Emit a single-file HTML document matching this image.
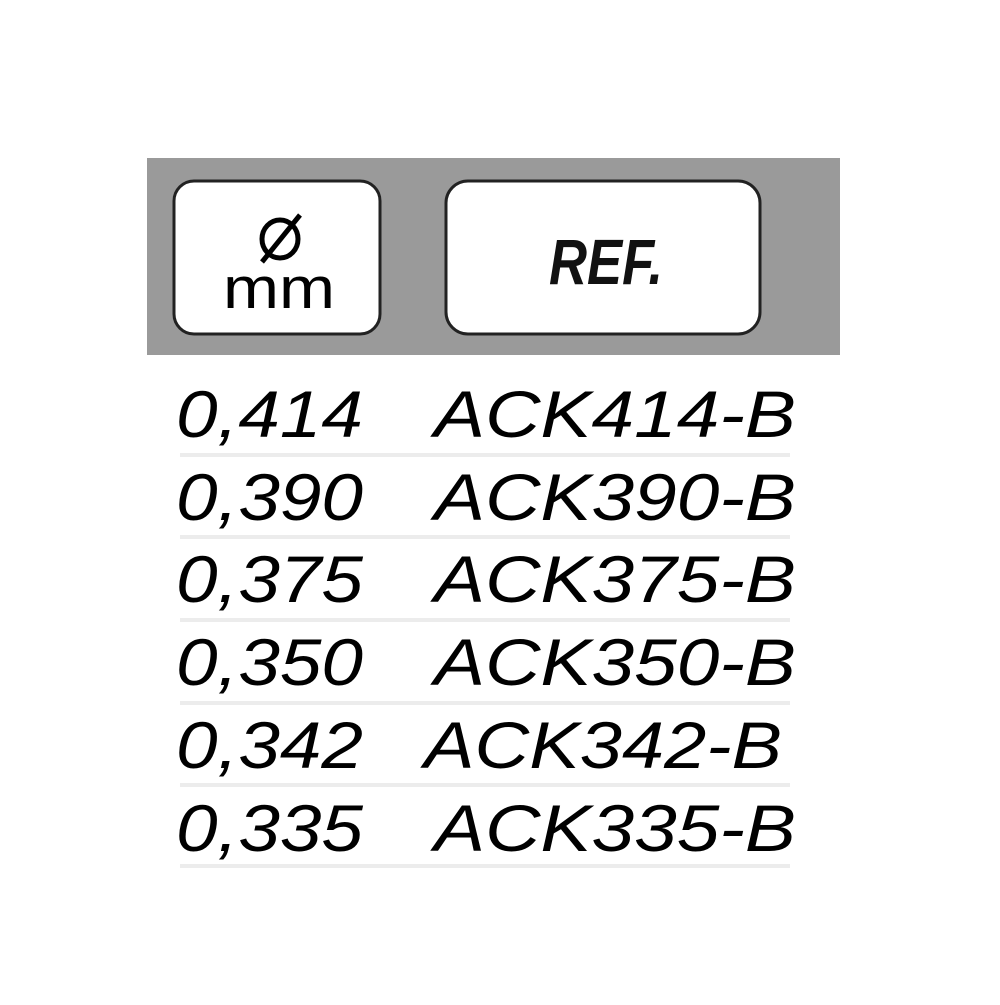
<!DOCTYPE html>
<html><head><style>html,body{margin:0;padding:0;background:#fff}</style></head>
<body>
<svg width="1000" height="1000" viewBox="0 0 1000 1000" xmlns="http://www.w3.org/2000/svg">
<rect width="1000" height="1000" fill="#fff"/>
<rect x="147" y="158" width="693" height="197" fill="#9a9a9a"/>
<rect x="174" y="181" width="206" height="153" rx="20" fill="#fff" stroke="#222" stroke-width="3"/>
<rect x="446" y="181" width="314" height="153" rx="22" fill="#fff" stroke="#222" stroke-width="3"/>
<ellipse cx="280" cy="239" rx="18" ry="19" fill="none" stroke="#000" stroke-width="5"/>
<line x1="262" y1="262" x2="300" y2="215" stroke="#000" stroke-width="5"/>
<text x="279" y="308" font-family="Liberation Sans, sans-serif" font-size="58" text-anchor="middle" textLength="112" lengthAdjust="spacingAndGlyphs" fill="#000">mm</text>
<text x="549" y="284" font-family="Liberation Sans, sans-serif" font-size="64" font-weight="bold" font-style="italic" textLength="114" lengthAdjust="spacingAndGlyphs" fill="#111">REF.</text>
<g stroke="#ececec" stroke-width="4">
<line x1="180" y1="455" x2="790" y2="455"/>
<line x1="180" y1="537" x2="790" y2="537"/>
<line x1="180" y1="620" x2="790" y2="620"/>
<line x1="180" y1="703" x2="790" y2="703"/>
<line x1="180" y1="785" x2="790" y2="785"/>
<line x1="180" y1="866" x2="790" y2="866"/>
</g>
<g font-family="Liberation Sans, sans-serif" font-size="66" font-style="italic" fill="#000">
<text x="176" y="437" textLength="187" lengthAdjust="spacingAndGlyphs">0,414</text>
<text x="434" y="437" textLength="362" lengthAdjust="spacingAndGlyphs">ACK414-B</text>
<text x="176" y="520" textLength="187" lengthAdjust="spacingAndGlyphs">0,390</text>
<text x="434" y="520" textLength="362" lengthAdjust="spacingAndGlyphs">ACK390-B</text>
<text x="176" y="602" textLength="187" lengthAdjust="spacingAndGlyphs">0,375</text>
<text x="434" y="602" textLength="362" lengthAdjust="spacingAndGlyphs">ACK375-B</text>
<text x="176" y="685" textLength="187" lengthAdjust="spacingAndGlyphs">0,350</text>
<text x="434" y="685" textLength="362" lengthAdjust="spacingAndGlyphs">ACK350-B</text>
<text x="176" y="768" textLength="187" lengthAdjust="spacingAndGlyphs">0,342</text>
<text x="424" y="768" textLength="358" lengthAdjust="spacingAndGlyphs">ACK342-B</text>
<text x="176" y="851" textLength="187" lengthAdjust="spacingAndGlyphs">0,335</text>
<text x="434" y="851" textLength="362" lengthAdjust="spacingAndGlyphs">ACK335-B</text>
</g>
</svg>
</body></html>
